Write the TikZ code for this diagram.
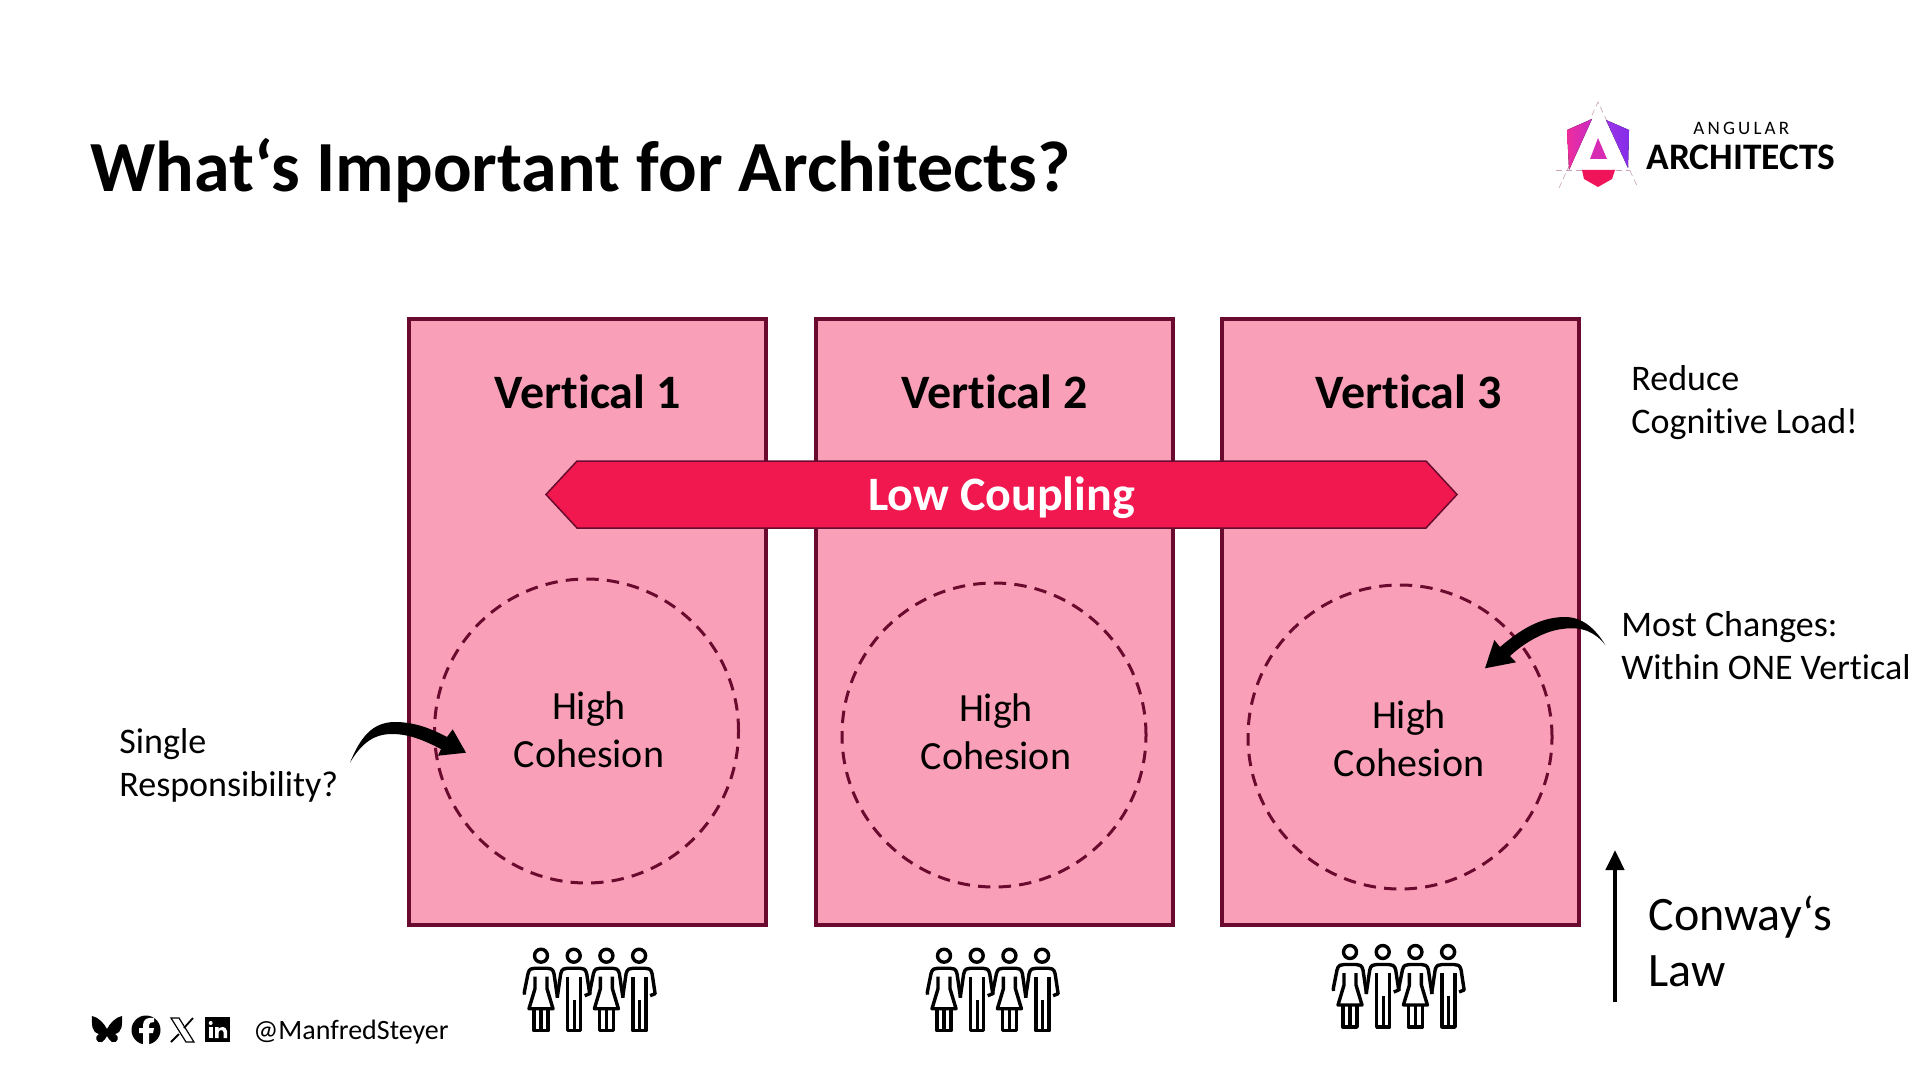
\documentclass[tikz,border=0pt]{standalone}
\usepackage{fontspec}
\setmainfont{Carlito}[Ligatures=NoCommon]
\usetikzlibrary{arrows.meta}
\definecolor{boxfill}{HTML}{F9A0B8}
\definecolor{boxline}{HTML}{6A0A2E}
\definecolor{bannerfill}{HTML}{F0184F}
\definecolor{logopink}{HTML}{EE2C9C}
\definecolor{logomag}{HTML}{C92BC4}
\definecolor{logovio}{HTML}{9B34E6}
\definecolor{logored}{HTML}{F0145A}
\definecolor{logodash}{HTML}{C9A0B8}
\tikzset{
  x=0.5pt,y=-0.5pt,
  vbox/.style={draw=boxline,fill=boxfill,line width=2pt,minimum width=178.5pt,minimum height=303pt,anchor=north west,inner sep=0pt},
  vtitle/.style={font=\fontsize{24}{29}\selectfont\bfseries,text=black,inner sep=0pt},
  cohcircle/.style={circle,draw=boxline,line width=1.5pt,dash pattern=on 6.2pt off 4.1pt,minimum size=152pt,inner sep=0pt},
  cohtext/.style={font=\fontsize{20}{24}\selectfont,align=center,inner sep=0pt},
  note/.style={font=\fontsize{18}{21.5}\selectfont,align=left,anchor=west,inner sep=0pt},
  pers/.style={line width=1.7pt,line join=round,line cap=butt},
  woman/.pic={
    \draw[pers] (0,0) circle (6.5);
    \draw[pers] (-16.5,39) .. controls (-17,38) and (-16.5,35) .. (-16,33) -- (-13,18) .. controls (-12,13) and (-9,12.5) .. (-6,12.5) -- (6,12.5) .. controls (9,12.5) and (12,13) .. (13,18) -- (16.5,42);
    \draw[pers] (-6,21) -- (-6,33) -- (-12,53) -- (12,53) -- (6,33) -- (6,21);
    \draw[pers] (-7,53) -- (-7,75) -- (7,75) -- (7,53);
    \draw[pers] (0,53) -- (0,75);
  },
  man/.pic={
    \draw[pers] (0,0) circle (6.5);
    \draw[pers] (-16.5,42) -- (-13,18) .. controls (-12,13) and (-9,12.5) .. (-6,12.5) -- (6,12.5) .. controls (9,12.5) and (12,13) .. (13,18) -- (16,38) -- (11,40);
    \draw[pers] (-6,21) -- (-6,75) -- (7,75) -- (7,21);
    \draw[pers] (0.5,44) -- (0.5,75);
  },
  team/.pic={
    \pic at (0,0) {woman};
    \pic at (32.7,0) {man};
    \pic at (65.4,0) {woman};
    \pic at (98.1,0) {man};
  }
}
\begin{document}
\begin{tikzpicture}
\useasboundingbox[fill=white] (0,0) rectangle (1920,1080);
% title
\node[anchor=base west,inner sep=0pt,font=\fontsize{36}{44}\selectfont\bfseries] (title) at (90,192) {What‘s Important for Architects?};
% logo
\draw[logodash,densely dashed,line width=0.3pt] (1556,170) -- (1630,170);
\draw[logodash,densely dashed,line width=0.3pt] (1559,188) -- (1598,102) -- (1638,188);
\fill[left color=logopink,right color=logomag] (1567,130) -- (1592,119) -- (1569,170) -- cycle;
\fill[left color=logovio,right color=logovio!85!blue] (1629,130) -- (1606,120) -- (1628,168) -- cycle;
\fill[logomag!60!logopink] (1598,138) -- (1607,159) -- (1590,159) -- cycle;
\fill[logored] (1582,170) -- (1615,170) -- (1612,179) -- (1598,187) -- (1584,179) -- cycle;
\node[anchor=base west,inner sep=0pt,font=\fontsize{9.5}{11}\selectfont] (logoa) at (1693,135) {A\,N\,G\,U\,L\,A\,R};
\node[anchor=base west,inner sep=0pt,font=\fontsize{18.7}{22}\selectfont\bfseries] (logob) at (1646,170) {ARCHITECTS};
% boxes
\node[vbox] (v1) at (407,317) {};
\node[vbox] (v2) at (813.5,317) {};
\node[vbox] (v3) at (1220,317) {};
\node[vtitle] (t1) at (587.5,392) {Vertical 1};
\node[vtitle] (t2) at (994.5,392) {Vertical 2};
\node[vtitle] (t3) at (1408.5,392) {Vertical 3};
% banner
\draw[draw=boxline,fill=bannerfill,line width=0.75pt] (546,494.5) -- (577,461) -- (1426,461) -- (1457,494.5) -- (1426,528) -- (577,528) -- cycle;
\node[inner sep=0pt,text=white,font=\fontsize{24}{29}\selectfont\bfseries] (low) at (1001.5,498) {Low Coupling};
% circles
\node[cohcircle] (c1) at (586.5,731) {};
\node[cohcircle] (c2) at (994,735) {};
\node[cohcircle] (c3) at (1400,737) {};
\node[cohtext] (h1) at (589,730) {High\\Cohesion};
\node[cohtext] (h2) at (996,732) {High\\Cohesion};
\node[cohtext] (h3) at (1409,739) {High\\Cohesion};
% notes
\node[note] (n1) at (119,765) {Single\\Responsibility?};
\node[note] (n2) at (1631,402.5) {Reduce\\Cognitive Load!};
\node[note] (n3) at (1621,646) {Most Changes:\\Within ONE Vertical};
\node[font=\fontsize{24}{28}\selectfont,align=left,anchor=west,inner sep=0pt] (n4) at (1648,941) {Conway‘s\\Law};
% curved arrows
\coordinate (a1s) at (350,762.7);
\coordinate (a1e) at (466,752.7);
\fill (a1s) .. controls (360,738) and (372,722) .. (395,722) .. controls (415,722) and (432,729) .. (447,737) -- (452.7,729.3) -- (a1e) -- (438,755.7) -- (441,749) .. controls (425,741) and (410,734) .. (392,734) .. controls (375,734) and (362,742) .. cycle;
\coordinate (a2s) at (1605.3,645);
\coordinate (a2e) at (1485,668.3);
\fill (a2s) .. controls (1595,628) and (1582,617) .. (1565,617) .. controls (1540,617) and (1520,630) .. (1500,647) -- (1494.3,640) -- (a2e) -- (1516,662.3) -- (1510,656) .. controls (1525,642) and (1545,631) .. (1562,629) .. controls (1582,626) and (1595,632) .. cycle;
% Conway arrow
\coordinate (lawa) at (1615,1002);
\coordinate (lawb) at (1615,850);
\draw[line width=2.2pt,-{Triangle[length=10pt,width=9pt]}] (lawa) -- (lawb);
% teams
\pic at (541,955.7) {team};
\pic at (944,955.7) {team};
\pic at (1350,952) {team};
% social
\node[font=\fontsize{14}{17}\selectfont,anchor=base west,inner sep=0pt] (handle) at (253,1039) {@ManfredSteyer};
% butterfly
\fill (92,1016) .. controls (98,1017) and (104,1023) .. (107,1029) .. controls (110,1023) and (116,1017) .. (122,1016) .. controls (122,1024) and (123,1032) .. (115,1034) .. controls (120,1036) and (118,1044) .. (112,1042) .. controls (110,1041) and (108,1038) .. (107,1036) .. controls (106,1038) and (104,1041) .. (102,1042) .. controls (96,1044) and (94,1036) .. (99,1034) .. controls (91,1032) and (92,1024) .. cycle;
% facebook
\fill (146,1030) circle (14.5);
\fill[white] (149,1045) -- (149,1033) -- (153,1033) -- (154,1028) -- (149,1028) -- (149,1025) .. controls (149,1023) and (151,1022) .. (154,1022) -- (154,1018) .. controls (148,1017) and (143,1019) .. (143,1025) -- (143,1028) -- (139,1028) -- (139,1033) -- (143,1033) -- (143,1045) -- cycle;
% X
\draw[line width=0.6pt] (171,1018) -- (179,1018) -- (194,1042) -- (186,1042) -- cycle;
\draw[line width=0.9pt] (193,1018) -- (184,1028) (179,1034) -- (171,1042);
% linkedin
\fill (205,1017) rectangle (230,1042);
\fill[white] (209,1027) rectangle (212.5,1038);
\fill[white] (210.7,1023) circle (2);
\fill[white] (215,1027) -- (218.5,1027) -- (218.5,1029) .. controls (220,1026.5) and (226,1025.5) .. (227,1031) -- (227,1038) -- (223.5,1038) -- (223.5,1032) .. controls (223,1029) and (218.5,1029.5) .. (218.5,1033) -- (218.5,1038) -- (215,1038) -- cycle;
\end{tikzpicture}
\end{document}
